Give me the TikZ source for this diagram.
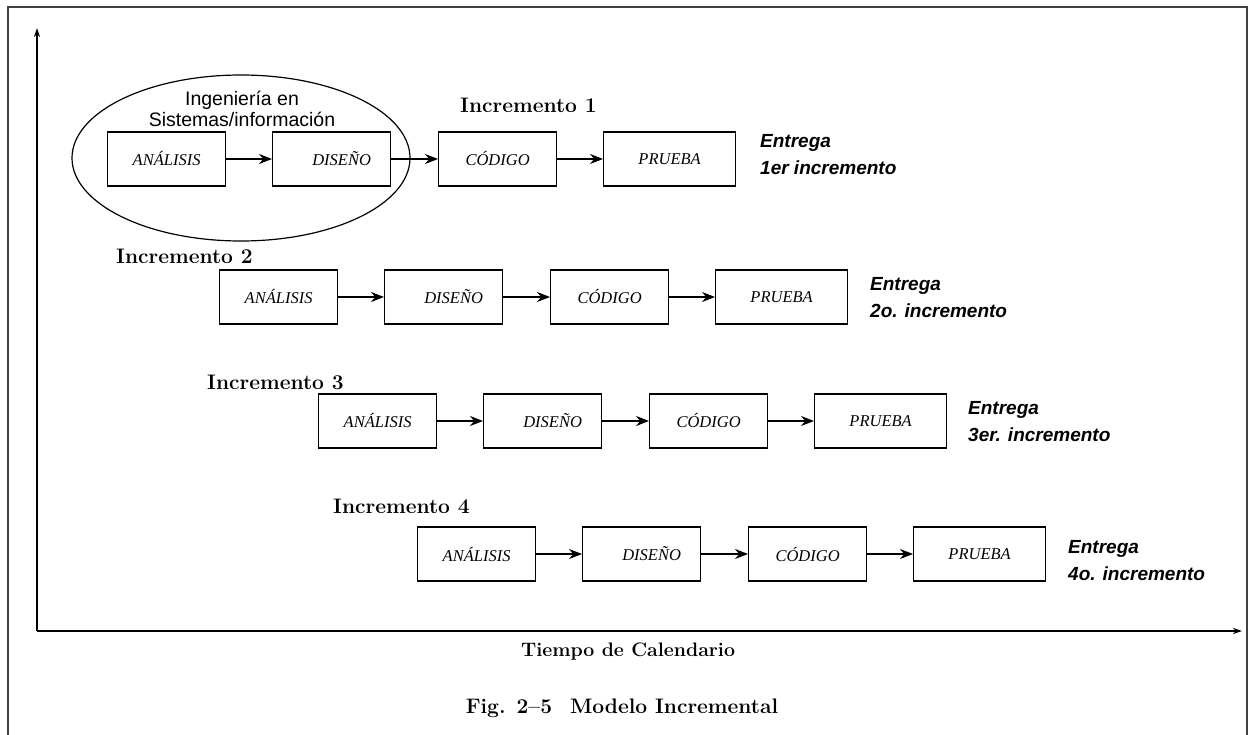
\documentclass[tikz,border=0pt]{standalone}
\usepackage{fontspec}
\newfontfamily\stagefont{Liberation Serif}
\newfontfamily\helv{Liberation Sans}
\usetikzlibrary{arrows.meta,shapes.geometric}

\begin{document}
\begin{tikzpicture}[x=1pt,y=-1pt,
  stage/.style={draw, line width=1.2pt, anchor=west, minimum width=118pt,
    minimum height=54pt, inner sep=0pt,
    font=\stagefont\itshape\fontsize{16.5}{19}\selectfont},
  widestage/.style={stage, minimum width=132pt},
  flow/.style={-{Stealth[length=13pt,width=10pt]}, line width=1.2pt},
  axis/.style={-{Stealth[length=9pt,width=6pt]}, line width=1.5pt},
  inclabel/.style={anchor=west, inner sep=0pt,
    font=\bfseries\fontsize{21}{24}\selectfont},
  deliv/.style={anchor=west, align=left, inner sep=0pt,
    font=\helv\bfseries\itshape\fontsize{19}{27}\selectfont},
  axislabel/.style={inner sep=0pt, font=\bfseries\fontsize{19.5}{23}\selectfont},
  caption/.style={inner sep=0pt, font=\bfseries\fontsize{21}{25}\selectfont}
]
\useasboundingbox (0,0) rectangle (1250,735);

% outer frame (its bottom edge lies below the page)
\draw[line width=1.5pt, black!75] (8,745) -- (8,7) -- (1247,7) -- (1247,745);

% axes
\coordinate (o) at (37,631);
\coordinate (ytop) at (37,28);
\coordinate (xend) at (1242,631);
\draw[axis] (o) -- (ytop);
\draw[axis] (o) -- (xend);

% systems/information engineering group
\node[draw, ellipse, line width=1.2pt, minimum width=338pt, minimum height=166pt,
  inner sep=0pt] (grupo) at (241,158) {};
\node[align=center, inner sep=0pt, font=\helv\fontsize{19.5}{21}\selectfont]
  (ingsis) at (242,109) {Ingeniería en\\Sistemas/información};

% the four increments
\foreach \r/\x/\y in {1/107/159, 2/219/297, 3/318/421, 4/417/554} {
  \node[stage] (an\r) at (\x,\y) {ANÁLISIS};
  \node[stage] (di\r) at (\x+165,\y) {\hspace*{20pt}DISEÑO};
  \node[stage] (co\r) at (\x+331,\y) {CÓDIGO};
  \node[widestage] (pr\r) at (\x+496,\y) {PRUEBA};
  \draw[flow] (an\r) -- (di\r);
  \draw[flow] (di\r) -- (co\r);
  \draw[flow] (co\r) -- (pr\r);
}

% increment titles
\node[inclabel] (inc1) at (460,105) {Incremento 1};
\node[inclabel] (inc2) at (116,256) {Incremento 2};
\node[inclabel] (inc3) at (207,382) {Incremento 3};
\node[inclabel] (inc4) at (333,506) {Incremento 4};

% deliveries
\node[deliv] (ent1) at (760,155) {Entrega\\1er incremento};
\node[deliv] (ent2) at (870,298) {Entrega\\2o. incremento};
\node[deliv] (ent3) at (968,422) {Entrega\\3er. incremento};
\node[deliv] (ent4) at (1068,561) {Entrega\\4o. incremento};

% axis title and caption
\node[axislabel] (tiempo) at (628,652) {Tiempo de Calendario};
\node[caption] (fig) at (622,708) {Fig.\hspace{11pt}2--5\hspace{18pt}Modelo Incremental};
\end{tikzpicture}
\end{document}
